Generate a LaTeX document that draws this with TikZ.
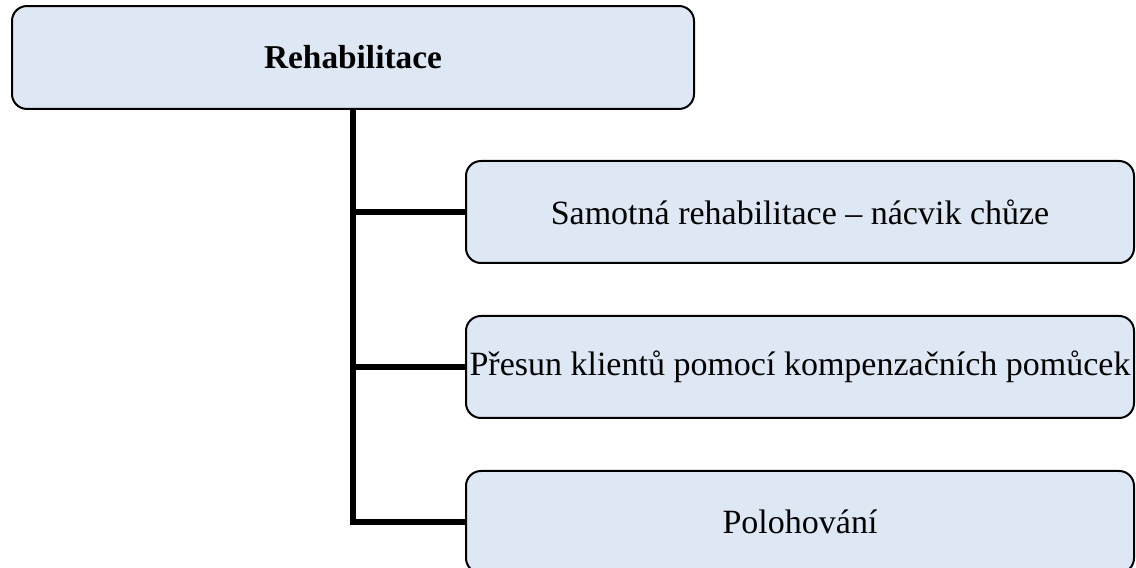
\documentclass[tikz,border=0pt]{standalone}
\usepackage{fontspec}
\setmainfont{Liberation Serif}
\definecolor{boxfill}{HTML}{DDE8F4}
\tikzstyle{box}=[draw=black,fill=boxfill,line width=0.75pt,rounded corners=5.6pt,
                 inner sep=0pt,font=\fontsize{12.75}{15}\selectfont]
\tikzstyle{head}=[box,minimum width=255.75pt,minimum height=38.6pt,
                  font=\fontsize{12.5}{15}\selectfont\bfseries]
\tikzstyle{item}=[box,minimum width=250.5pt,minimum height=38.25pt]
\tikzstyle{branch}=[line width=1.9pt]

\begin{document}
\begin{tikzpicture}[x=0.375pt,y=-0.375pt]
  \def\dy{155} % vertical distance of the items
  \useasboundingbox (0,0) rectangle (1136,568);

  % HEAD BOX
  \node[head] (top) at (353,57.5) {Rehabilitace};

  % ITEMS
  \foreach \txt [count=\i] in {Samotná rehabilitace – nácvik chůze,
                               Přesun klientů pomocí kompenzačních pomůcek,
                               Polohování}{
    \node[item] (item\i) at (800,57+\dy*\i) {\txt};
  }

  % CONNECTORS
  \draw[branch] (top.south) -- (top.south |- item3.west) -- (item3.west);
  \foreach \i in {1,2}{
    \draw[branch] (top.south |- item\i.west) -- (item\i.west);
  }
\end{tikzpicture}
\end{document}
